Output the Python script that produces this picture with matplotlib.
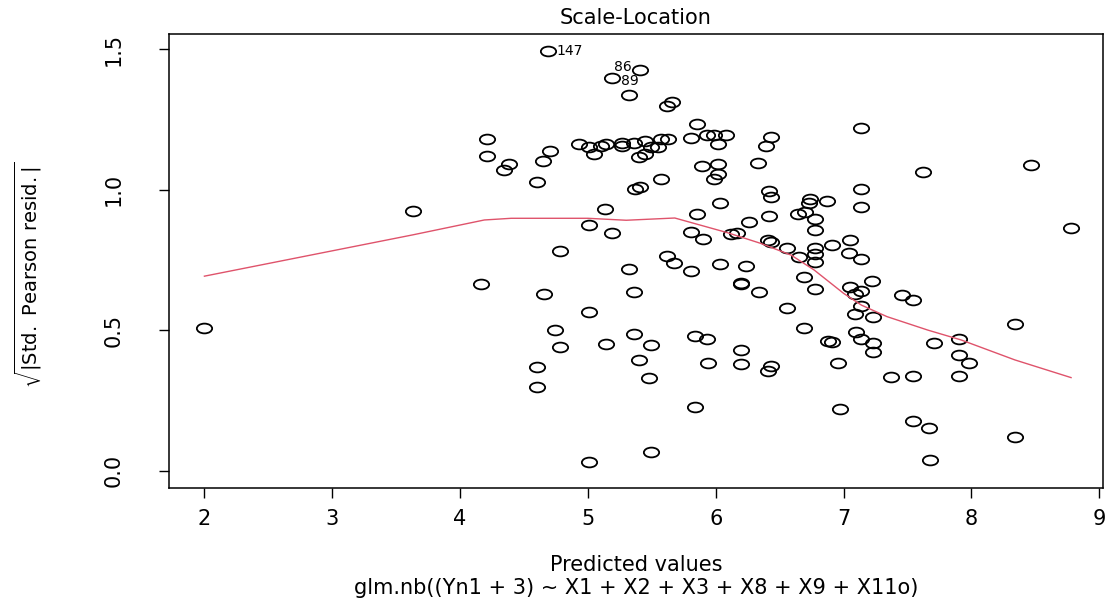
import matplotlib
matplotlib.use("Agg")
import matplotlib.pyplot as plt
import numpy as np
from matplotlib.path import Path

# valores ajustados e raiz dos residuos de Pearson padronizados
pred = [2.00, 3.63, 4.16, 4.21, 4.21, 4.34, 4.38, 4.60, 4.60, 4.60,
        4.65, 4.66, 4.69, 4.70, 4.74, 4.78, 4.78, 4.93, 5.01, 5.01,
        5.01, 5.01, 5.05, 5.10, 5.13, 5.14, 5.14, 5.19, 5.19, 5.27,
        5.27, 5.32, 5.32, 5.36, 5.36, 5.36, 5.37, 5.40, 5.40, 5.41,
        5.41, 5.45, 5.45, 5.48, 5.49, 5.49, 5.49, 5.55, 5.57, 5.57,
        5.62, 5.62, 5.63, 5.66, 5.67, 5.81, 5.81, 5.81, 5.84, 5.84,
        5.85, 5.85, 5.89, 5.90, 5.93, 5.93, 5.94, 5.99, 5.99, 6.02,
        6.02, 6.02, 6.03, 6.03, 6.08, 6.12, 6.17, 6.20, 6.20, 6.20,
        6.20, 6.24, 6.26, 6.33, 6.34, 6.39, 6.41, 6.43, 6.41, 6.43,
        6.42, 6.43, 6.42, 6.43, 6.56, 6.56, 6.64, 6.65, 6.69, 6.69,
        6.70, 6.73, 6.74, 6.78, 6.78, 6.78, 6.78, 6.78, 6.78, 6.87,
        6.88, 6.91, 6.91, 6.96, 6.97, 7.04, 7.05, 7.05, 7.09, 7.09,
        7.10, 7.14, 7.14, 7.14, 7.14, 7.14, 7.14, 7.14, 7.22, 7.23,
        7.23, 7.23, 7.37, 7.46, 7.54, 7.54, 7.54, 7.62, 7.67, 7.68,
        7.71, 7.90, 7.90, 7.90, 7.98, 8.34, 8.34, 8.47, 8.78]
sqrt_res = [0.509, 0.925, 0.664, 1.182, 1.119, 1.070, 1.092, 1.027, 0.371, 0.298,
            1.102, 0.628, 1.494, 1.139, 0.503, 0.440, 0.781, 1.164, 0.564, 0.874,
            0.033, 1.153, 1.127, 1.157, 0.932, 0.451, 1.164, 0.848, 1.398, 1.168,
            1.155, 1.337, 0.720, 0.635, 0.488, 1.168, 1.005, 1.118, 0.395, 1.011,
            1.428, 1.175, 1.128, 0.332, 0.068, 1.153, 0.449, 1.153, 1.181, 1.038,
            1.297, 0.765, 1.180, 1.313, 0.741, 1.184, 0.849, 0.711, 0.480, 0.229,
            0.914, 1.233, 1.085, 0.826, 1.195, 0.468, 0.385, 1.038, 1.195, 1.163,
            1.092, 1.055, 0.737, 0.954, 1.196, 0.842, 0.845, 0.667, 0.664, 0.431,
            0.379, 0.730, 0.887, 1.097, 0.637, 1.157, 0.820, 0.815, 0.356, 0.374,
            0.997, 0.973, 0.908, 1.189, 0.580, 0.795, 0.913, 0.760, 0.690, 0.510,
            0.920, 0.952, 0.966, 0.856, 0.896, 0.794, 0.771, 0.744, 0.646, 0.960,
            0.463, 0.460, 0.804, 0.384, 0.222, 0.776, 0.822, 0.653, 0.629, 0.557,
            0.495, 1.219, 1.005, 0.940, 0.753, 0.640, 0.588, 0.469, 0.676, 0.548,
            0.454, 0.422, 0.335, 0.625, 0.609, 0.339, 0.177, 1.062, 0.154, 0.039,
            0.454, 0.470, 0.413, 0.337, 0.383, 0.522, 0.122, 1.087, 0.863]

# curva suavizada (lowess)
suave_x = [2.00, 3.63, 4.19, 4.40, 5.00, 5.30, 5.68, 6.09, 6.35, 6.59,
           6.77, 7.00, 7.14, 7.34, 7.66, 7.92, 8.34, 8.78]
suave_y = [0.693, 0.840, 0.893, 0.899, 0.899, 0.892, 0.900, 0.848, 0.810, 0.768,
           0.715, 0.632, 0.590, 0.549, 0.501, 0.466, 0.395, 0.332]

# observacoes destacadas: (x, y, rotulo, deslocamento em pontos, alinhamento)
destaques = [(4.69, 1.494, "147", (6, 0), "left"),
             (5.41, 1.428, "86", (-6, 2), "right"),
             (5.19, 1.398, "89", (6, -2), "left")]

x_ticks = [2, 3, 4, 5, 6, 7, 8, 9]
y_ticks = [0.0, 0.5, 1.0, 1.5]

# marcador circular achatado
circ = Path.unit_circle()
elipse = Path(circ.vertices * np.array([1.0, 0.64]), circ.codes)

fig = plt.figure(figsize=(11.07, 6.02), dpi=100)
ax = fig.add_axes([0.1529, 0.1899, 0.8435, 0.7531])

ax.plot(pred, sqrt_res, linestyle='none', marker=elipse, markersize=11,
        markerfacecolor='none', markeredgecolor='black', markeredgewidth=1.3)
ax.plot(suave_x, suave_y, color='#DF536B', linewidth=1.0)

for x, y, rot, desl, alin in destaques:
    ax.annotate(rot, (x, y), xytext=desl, textcoords='offset points',
                ha=alin, va='center', fontsize=10)

ax.set_xlim(1.725, 9.03)
ax.set_ylim(-0.0598, 1.5538)
ax.set_xticks(x_ticks)
ax.set_xticklabels([str(v) for v in x_ticks])
ax.set_yticks(y_ticks)
ax.set_yticklabels([f"{v:.1f}" for v in y_ticks], rotation=90, va='center')
ax.tick_params(axis='x', direction='out', length=7, width=1.0, labelsize=15, pad=8)
ax.tick_params(axis='y', direction='out', length=7, width=1.0, labelsize=15, pad=26)
for sp in ax.spines.values():
    sp.set_linewidth(1.1)

fig.text(0.5745, 0.970, "Scale-Location", ha='center', va='center', fontsize=15)
fig.text(0.5745, 0.0615, "Predicted values", ha='center', va='center', fontsize=15)
fig.text(0.5745, 0.0233, "glm.nb((Yn1 + 3) ~ X1 + X2 + X3 + X8 + X9 + X11o)",
         ha='center', va='center', fontsize=15)
fig.text(0.0253, 0.543, r"$\sqrt{|\mathrm{Std.\ Pearson\ resid.}|}$",
         ha='center', va='center', rotation=90, fontsize=14)

fig.savefig("out.png", dpi=100)
